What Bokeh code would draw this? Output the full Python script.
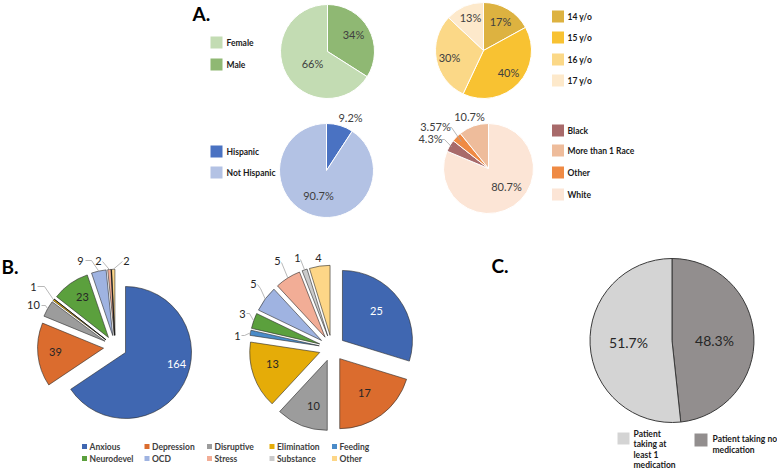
import math
from bokeh.plotting import figure
from bokeh.models import Range1d, ColumnDataSource
from bokeh.core.properties import value
from bokeh.embed import file_html
from bokeh.resources import INLINE

# ---------------- data ----------------
gender_cats = ["Female", "Male"]
gender_pct = [66, 34]
age_cats = ["14 y/o", "15 y/o", "16 y/o", "17 y/o"]
age_pct = [17, 40, 30, 13]
eth_cats = ["Hispanic", "Not Hispanic"]
eth_pct = [9.2, 90.7]
race_cats = ["Black", "More than 1 Race", "Other", "White"]
race_pct = [4.3, 10.7, 3.57, 80.7]
dx_cats = ["Anxious", "Depression", "Disruptive", "Elimination", "Feeding",
           "Neurodevel", "OCD", "Stress", "Substance", "Other"]
dx_left = [164, 39, 10, 1, 0, 23, 9, 2, 0, 2]
dx_right = [25, 17, 10, 13, 1, 3, 5, 5, 1, 4]
med_cats = ["Patient taking at least 1 medication", "Patient taking no medication"]
med_pct = [51.7, 48.3]

# ---------------- styles ----------------
FONT = value("Lato")
LEG = "8.5px"
gender_colors = ["#C3DCB3", "#8FB873"]
age_colors = ["#DDB240", "#F8C232", "#FBD887", "#FDE9CB"]
eth_colors = ["#4A72C2", "#B3C2E4"]
race_colors = ["#A86A6A", "#EEBC9B", "#EF8A44", "#FCE5D6"]
dx_colors = ["#4067B1", "#DB6C2E", "#9C9C9C", "#E5AC08", "#4A8BC8",
             "#5BA03D", "#9FB3E1", "#F2AD96", "#CACACA", "#FDD687"]
med_colors = ["#D4D4D4", "#928E8E"]

W, H = 777, 469
p = figure(width=W, height=H, x_range=Range1d(0, W), y_range=Range1d(0, H),
           output_backend="svg", toolbar_location=None, min_border=0,
           x_axis_location=None, y_axis_location=None, outline_line_color=None,
           background_fill_color="white", border_fill_color="white")
p.grid.visible = False


def Y(py):
    return H - py


def dirv(theta_deg):
    t = math.radians(theta_deg)
    return math.sin(t), math.cos(t)   # y-up data coords, clockwise from 12


def pie(cx, cy, r, vals, colors, order, line_color, line_width, explode=0.0):
    total = float(sum(vals))
    xs, ys, ss, es, cs = [], [], [], [], []
    geo = {}
    zero_lines = []
    th = 0.0
    for i in order:
        v = vals[i]
        span = 360.0 * v / total
        mid = th + span / 2
        dx, dy = dirv(mid)
        ax, ay = cx + explode * dx, Y(cy) + explode * dy
        geo[i] = (ax, ay, ax + r * dx, ay + r * dy)
        if v > 0:
            xs.append(ax); ys.append(ay)
            ss.append(math.pi / 2 - math.radians(th + span))
            es.append(math.pi / 2 - math.radians(th))
            cs.append(colors[i])
        else:
            zero_lines.append(([ax, ax + r * dx], [ay, ay + r * dy]))
        th += span
    src = ColumnDataSource(dict(x=xs, y=ys, s=ss, e=es, c=cs))
    p.wedge(x="x", y="y", radius=r, start_angle="s", end_angle="e", fill_color="c",
            line_color=line_color, line_width=line_width, source=src)
    for lx, ly in zero_lines:
        p.line(lx, ly, line_color="#1a1a1a", line_width=1)
    return geo


def label(x, py, txt, size="11px", color="#404040", bold=False, align="center"):
    p.text(x=[x], y=[Y(py)], text=[txt], text_font=FONT, text_font_size=size,
           text_color=color, text_align=align, text_baseline="middle",
           text_font_style="bold" if bold else "normal")


def leader_to(pts_px, rim):
    xs = [a for a, b in pts_px] + [rim[0]]
    ys = [Y(b) for a, b in pts_px] + [rim[1]]
    p.line(xs, ys, line_color="#A6A6A6", line_width=0.8)


def fmt_pct(v):
    return ("%g" % v) + "%"


# ---------------- panel letters ----------------
label(192, 13, "A.", size="19px", color="#000000", bold=True, align="left")
label(1, 266, "B.", size="19px", color="#000000", bold=True, align="left")
label(491, 265, "C.", size="19px", color="#000000", bold=True, align="left")

# ---------------- A: gender ----------------
pie(327, 51, 47, gender_pct, gender_colors, [1, 0], "white", 1)
label(353, 34, fmt_pct(gender_pct[1]))
label(312, 63, fmt_pct(gender_pct[0]))
for i, py in zip(range(2), [42, 64]):
    p.rect([216], [Y(py)], width=12, height=12, fill_color=gender_colors[i], line_color=None)
    label(226, py, gender_cats[i], size=LEG, color="#1a1a1a", bold=True, align="left")

# ---------------- A: age ----------------
pie(483, 50, 48, age_pct, age_colors, [0, 1, 2, 3], "white", 1)
for i, (lx, ly) in enumerate([(500, 21), (508, 72), (449, 57), (470, 17)]):
    label(lx, ly, fmt_pct(age_pct[i]))
for i, py in enumerate([16, 37, 59, 80]):
    p.rect([557.5], [Y(py)], width=12, height=12, fill_color=age_colors[i], line_color=None)
    label(567, py, age_cats[i], size=LEG, color="#1a1a1a", bold=True, align="left")

# ---------------- A: ethnicity ----------------
pie(326, 170, 47, eth_pct, eth_colors, [0, 1], "white", 1)
label(350, 117, fmt_pct(eth_pct[0]))
label(318, 195, fmt_pct(eth_pct[1]))
for i, py in enumerate([151, 172]):
    p.rect([216], [Y(py)], width=12, height=12, fill_color=eth_colors[i], line_color=None)
    label(226, py, eth_cats[i], size=LEG, color="#1a1a1a", bold=True, align="left")

# ---------------- A: race ----------------
rg = pie(488, 168, 45, race_pct, race_colors, [3, 0, 2, 1], "white", 1)
label(469, 116, fmt_pct(race_pct[1]))
label(506, 186, fmt_pct(race_pct[3]))
label(435, 126, fmt_pct(race_pct[2]))
label(430, 138, fmt_pct(race_pct[0]))
ax, ay, rx, ry = rg[2]
leader_to([(448, 127), (451, 127)], (ax + 0.85 * (rx - ax), ay + 0.85 * (ry - ay)))
ax, ay, rx, ry = rg[0]
leader_to([(441, 139), (444, 139)], (ax + 0.95 * (rx - ax), ay + 0.95 * (ry - ay)))
for i, py in enumerate([130, 150, 172, 194]):
    p.rect([557.5], [Y(py)], width=12, height=12, fill_color=race_colors[i], line_color=None)
    label(567, py, race_cats[i], size=LEG, color="#1a1a1a", bold=True, align="left")

# ---------------- B: left pie ----------------
order10 = list(range(10))
gl = pie(114.7, 346.5, 66, dx_left, dx_colors, order10, "#2a2a2a", 0.6, explode=11.7)
left_lbl = {0: (176, 363), 1: (55, 351), 5: (82, 296), 2: (33, 304), 3: (33, 286),
            6: (80, 260), 7: (98, 260), 9: (126, 260)}
for i, (lx, ly) in left_lbl.items():
    label(lx, ly, str(dx_left[i]), color="white" if i == 0 else "#262626")
leader_to([(41, 305), (45, 305)], gl[2][2:])
leader_to([(37, 286), (44, 286)], gl[3][2:])
leader_to([(85, 260), (91, 260)], gl[6][2:])
leader_to([(102, 261)], gl[7][2:])
leader_to([(122, 261)], gl[9][2:])

# ---------------- B: right pie ----------------
gr = pie(331.5, 347.7, 70, dx_right, dx_colors, order10, "#2a2a2a", 0.6, explode=13)
right_lbl = {0: (376, 310), 1: (364, 392), 2: (313, 405), 3: (272, 363), 4: (237, 335),
             5: (242, 313), 6: (253, 283), 7: (277, 260), 8: (297, 257), 9: (318, 257)}
for i, (lx, ly) in right_lbl.items():
    label(lx, ly, str(dx_right[i]), color="white" if i == 0 else "#262626")
leader_to([(241, 335), (244, 335)], gr[4][2:])
leader_to([(246, 313), (249, 313)], gr[5][2:])
leader_to([(257, 284), (260, 288)], gr[6][2:])
leader_to([(281, 262)], gr[7][2:])
leader_to([(300, 259)], gr[8][2:])

# B legend
cols = [84, 146.5, 209, 271.5, 334]
for i, cat in enumerate(dx_cats):
    cx = cols[i % 5]
    py = 446 if i < 5 else 458
    p.rect([cx], [Y(py)], width=5, height=5, fill_color=dx_colors[i], line_color=None)
    label(cx + 5, py, cat, size=LEG, color="#404040", bold=True, align="left")

# ---------------- C: medication ----------------
pie(671.5, 340, 82, med_pct, med_colors, [1, 0], "#3a3a3a", 1)
label(628, 342, fmt_pct(med_pct[0]), size="14px", color="#262626")
label(714, 340, fmt_pct(med_pct[1]), size="14px", color="#262626")
p.rect([623], [Y(438)], width=12, height=12, fill_color=med_colors[0], line_color=None)
p.rect([700.5], [Y(439.5)], width=13, height=13, fill_color=med_colors[1], line_color=None)
for txt, py in zip(["Patient", "taking at", "least 1", "medication"], [433, 443.5, 454, 464.5]):
    label(633, py, txt, size=LEG, color="#1a1a1a", bold=True, align="left")
for txt, py in zip(["Patient taking no", "medication"], [438, 449]):
    label(712, py, txt, size=LEG, color="#1a1a1a", bold=True, align="left")

open("out.html", "w").write(file_html(p, INLINE))
